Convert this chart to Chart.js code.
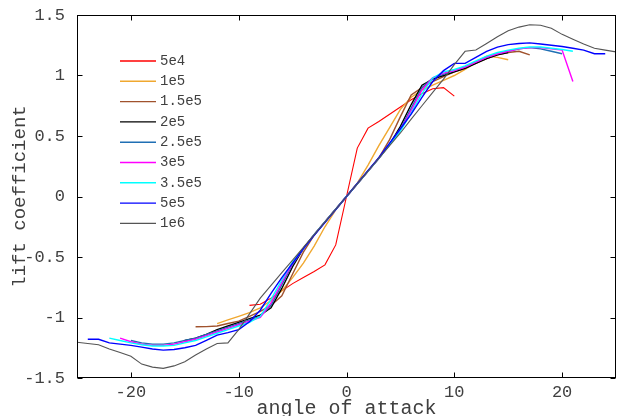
<!DOCTYPE html>
<html>
<head>
<meta charset="utf-8">
<script src="https://cdn.jsdelivr.net/npm/chart.js@4"></script>
<style>
  html, body { margin: 0; padding: 0; background: #fff; }
</style>
</head>
<body>
<canvas id="cl" width="619" height="416"></canvas>
<script>
// Reynolds numbers (legend labels)
const reLabels = ['5e4', '1e5', '1.5e5', '2e5', '2.5e5', '3e5', '3.5e5', '5e5', '1e6'];
const reColors = ['#ff0000', '#f0a830', '#a0522d', '#000000', '#1f6fb4', '#ff00ff', '#00ffff', '#0000ff', '#555555'];

const xTicks = [-20, -10, 0, 10, 20];
const yTicks = [-1.5, -1, -0.5, 0, 0.5, 1, 1.5];

// angle of attack (deg) and lift coefficient per Reynolds number
const aoa5e4 = [-9, -8, -7, -6, -5, -4, -3, -2, -1, 0, 1, 2, 3, 4, 5, 6, 7, 8, 9, 10];
const cl5e4 = [-0.90, -0.89, -0.84, -0.78, -0.72, -0.67, -0.62, -0.565, -0.40, 0, 0.40, 0.565, 0.62, 0.68, 0.74, 0.80, 0.85, 0.89, 0.90, 0.83];

const aoa1e5 = [-12, -11, -10, -9, -8, -7, -6, -5, -4, -3, -2, -1, 0, 1, 2, 3, 4, 5, 6, 7, 8, 9, 10, 11, 12, 13, 14, 15];
const cl1e5 = [-1.05, -1.02, -0.99, -0.96, -0.92, -0.86, -0.78, -0.67, -0.55, -0.41, -0.25, -0.11, 0, 0.11, 0.26, 0.42, 0.57, 0.72, 0.82, 0.88, 0.92, 0.96, 1.00, 1.05, 1.11, 1.16, 1.15, 1.13];

const aoa15e5 = [-14, -13, -12, -11, -10, -9, -8, -7, -6, -5, -4, -3, -2, -1, 0, 1, 2, 3, 4, 5, 6, 7, 8, 9, 10, 11, 12, 13, 14, 15, 16, 17];
const cl15e5 = [-1.076, -1.075, -1.07, -1.05, -1.03, -0.99, -0.95, -0.90, -0.82, -0.64, -0.46, -0.32, -0.21, -0.105, 0, 0.105, 0.21, 0.32, 0.47, 0.66, 0.84, 0.90, 0.95, 0.99, 1.03, 1.06, 1.10, 1.14, 1.17, 1.19, 1.20, 1.17];

const aoa2e5 = [-15, -14, -13, -12, -11, -10, -9, -8, -7, -6, -5, -4, -3, -2, -1, 0, 1, 2, 3, 4, 5, 6, 7, 8, 9, 10, 11, 12, 13, 14, 15];
const cl2e5 = [-1.19, -1.17, -1.14, -1.10, -1.07, -1.04, -1.01, -0.98, -0.92, -0.76, -0.58, -0.43, -0.315, -0.21, -0.105, 0, 0.105, 0.21, 0.315, 0.43, 0.58, 0.76, 0.92, 0.97, 1.00, 1.03, 1.06, 1.10, 1.14, 1.17, 1.19];

const aoa25e5 = [-20, -19, -18, -17, -16, -15, -14, -13, -12, -11, -10, -9, -8, -7, -6, -5, -4, -3, -2, -1, 0, 1, 2, 3, 4, 5, 6, 7, 8, 9, 10, 11, 12, 13, 14, 15, 16, 17, 18, 19, 20];
const cl25e5 = [-1.19, -1.21, -1.22, -1.22, -1.21, -1.19, -1.17, -1.14, -1.11, -1.08, -1.05, -1.02, -0.99, -0.90, -0.73, -0.56, -0.43, -0.315, -0.21, -0.105, 0, 0.105, 0.21, 0.315, 0.43, 0.56, 0.73, 0.90, 0.98, 1.01, 1.04, 1.07, 1.11, 1.15, 1.18, 1.20, 1.22, 1.23, 1.22, 1.20, 1.18];

const aoa3e5 = [-21, -20, -19, -18, -17, -16, -15, -14, -13, -12, -11, -10, -9, -8, -7, -6, -5, -4, -3, -2, -1, 0, 1, 2, 3, 4, 5, 6, 7, 8, 9, 10, 11, 12, 13, 14, 15, 16, 17, 18, 19, 20, 21];
const cl3e5 = [-1.17, -1.20, -1.22, -1.23, -1.23, -1.22, -1.20, -1.18, -1.15, -1.12, -1.09, -1.06, -1.03, -1.00, -0.88, -0.71, -0.55, -0.43, -0.315, -0.21, -0.105, 0, 0.105, 0.21, 0.315, 0.43, 0.55, 0.71, 0.88, 0.98, 1.02, 1.04, 1.07, 1.11, 1.15, 1.18, 1.20, 1.22, 1.23, 1.23, 1.22, 1.21, 0.95];

const aoa35e5 = [-22, -21, -20, -19, -18, -17, -16, -15, -14, -13, -12, -11, -10, -9, -8, -7, -6, -5, -4, -3, -2, -1, 0, 1, 2, 3, 4, 5, 6, 7, 8, 9, 10, 11, 12, 13, 14, 15, 16, 17, 18, 19, 20, 21];
const cl35e5 = [-1.17, -1.19, -1.21, -1.225, -1.235, -1.235, -1.23, -1.21, -1.19, -1.16, -1.13, -1.10, -1.07, -1.04, -0.99, -0.85, -0.69, -0.54, -0.43, -0.315, -0.21, -0.105, 0, 0.105, 0.21, 0.315, 0.43, 0.54, 0.69, 0.85, 0.98, 1.03, 1.05, 1.08, 1.12, 1.16, 1.19, 1.21, 1.225, 1.235, 1.235, 1.225, 1.215, 1.20];

const aoa5e5 = [-24, -23, -22, -21, -20, -19, -18, -17, -16, -15, -14, -13, -12, -11, -10, -9, -8, -7, -6, -5, -4, -3, -2, -1, 0, 1, 2, 3, 4, 5, 6, 7, 8, 9, 10, 11, 12, 13, 14, 15, 16, 17, 18, 19, 20, 21, 22, 23, 24];
const cl5e5 = [-1.18, -1.18, -1.21, -1.22, -1.23, -1.245, -1.26, -1.27, -1.265, -1.25, -1.23, -1.19, -1.145, -1.125, -1.10, -1.035, -0.94, -0.80, -0.67, -0.55, -0.43, -0.32, -0.215, -0.107, 0, 0.107, 0.215, 0.32, 0.44, 0.56, 0.68, 0.82, 0.95, 1.04, 1.10, 1.10, 1.15, 1.20, 1.235, 1.255, 1.265, 1.27, 1.26, 1.25, 1.24, 1.225, 1.21, 1.18, 1.18];

const aoa1e6 = [-26, -25, -24, -23, -22, -21, -20, -19, -18, -17, -16, -15, -14, -13, -12, -11, -10, -9, -8, -7, -6, -5, -4, -3, -2, -1, 0, 1, 2, 3, 4, 5, 6, 7, 8, 9, 10, 11, 12, 13, 14, 15, 16, 17, 18, 19, 20, 21, 22, 23, 24, 25];
const cl1e6 = [-1.20, -1.205, -1.215, -1.225, -1.26, -1.29, -1.32, -1.385, -1.41, -1.42, -1.40, -1.365, -1.31, -1.26, -1.215, -1.21, -1.10, -0.97, -0.84, -0.735, -0.63, -0.525, -0.42, -0.315, -0.21, -0.105, 0, 0.105, 0.21, 0.315, 0.42, 0.525, 0.64, 0.75, 0.86, 0.97, 1.09, 1.20, 1.21, 1.265, 1.32, 1.37, 1.40, 1.42, 1.415, 1.39, 1.34, 1.30, 1.26, 1.225, 1.21, 1.195];

const aoaSets = [aoa5e4, aoa1e5, aoa15e5, aoa2e5, aoa25e5, aoa3e5, aoa35e5, aoa5e5, aoa1e6];
const clSets = [cl5e4, cl1e5, cl15e5, cl2e5, cl25e5, cl3e5, cl35e5, cl5e5, cl1e6];

const FONT = "'Liberation Mono', 'DejaVu Sans Mono', monospace";
const TEXT = '#404040';

const datasets = reLabels.map((label, i) => ({
  label,
  data: aoaSets[i].map((a, k) => ({ x: a, y: clSets[i][k] })),
  borderColor: reColors[i],
  borderWidth: (i === 0 || i === 8) ? 1.1 : 1.4,
  pointRadius: 0,
  tension: 0,
  fill: false,
  order: reLabels.length - i, // later series on top
}));

// box, inward ticks and in-plot legend
const framePlugin = {
  id: 'frame',
  afterDatasetsDraw(chart) {
    const { ctx, chartArea: a, scales: { x, y } } = chart;
    const L = Math.round(a.left) + 0.5, R = Math.round(a.right) - 0.5;
    const T = Math.round(a.top) + 0.5, B = Math.round(a.bottom) - 0.5;
    ctx.save();
    ctx.strokeStyle = '#000';
    ctx.lineWidth = 1;
    ctx.strokeRect(L, T, R - L, B - T);
    ctx.beginPath();
    xTicks.forEach(v => {
      const px = Math.round(x.getPixelForValue(v)) + 0.5;
      ctx.moveTo(px, B); ctx.lineTo(px, B - 5);
      ctx.moveTo(px, T); ctx.lineTo(px, T + 5);
    });
    yTicks.forEach(v => {
      const py = Math.round(y.getPixelForValue(v)) + 0.5;
      ctx.moveTo(L, py); ctx.lineTo(L + 5, py);
      ctx.moveTo(R, py); ctx.lineTo(R - 5, py);
    });
    ctx.stroke();

    // legend
    ctx.font = '14px ' + FONT;
    ctx.textBaseline = 'middle';
    ctx.textAlign = 'left';
    chart.data.datasets.forEach((ds, i) => {
      const ly = a.top + 46 + i * 20.3;
      ctx.strokeStyle = ds.borderColor;
      ctx.lineWidth = 1.4;
      ctx.beginPath();
      ctx.moveTo(a.left + 43, ly);
      ctx.lineTo(a.left + 79, ly);
      ctx.stroke();
      ctx.fillStyle = TEXT;
      ctx.fillText(ds.label, a.left + 83, ly);
    });
    ctx.restore();
  }
};

new Chart(document.getElementById('cl'), {
  type: 'line',
  data: { datasets },
  options: {
    responsive: false,
    animation: false,
    layout: { padding: { top: 15, right: 3, left: 0, bottom: 0 } },
    plugins: { legend: { display: false }, tooltip: { enabled: false } },
    scales: {
      x: {
        type: 'linear',
        min: -25,
        max: 25,
        afterBuildTicks: s => { s.ticks = xTicks.map(v => ({ value: v })); },
        afterFit: s => { s.height = 38; },
        grid: { display: false },
        border: { display: false },
        ticks: { color: TEXT, font: { family: FONT, size: 17 }, padding: -4, maxRotation: 0, callback: v => String(v) },
        title: { display: true, text: 'angle of attack', color: TEXT, font: { family: FONT, size: 20, lineHeight: 1 }, padding: { top: 0, bottom: -3 } },
      },
      y: {
        type: 'linear',
        min: -1.5,
        max: 1.5,
        afterBuildTicks: s => { s.ticks = yTicks.map(v => ({ value: v })); },
        afterFit: s => { s.width = 77; },
        grid: { display: false },
        border: { display: false },
        ticks: { color: TEXT, font: { family: FONT, size: 17 }, padding: 4, callback: v => String(v) },
        title: { display: true, text: 'lift coefficient', color: TEXT, font: { family: FONT, size: 19, lineHeight: 1 }, padding: { top: 10, bottom: 0 } },
      },
    },
  },
  plugins: [framePlugin],
});
</script>
</body>
</html>
